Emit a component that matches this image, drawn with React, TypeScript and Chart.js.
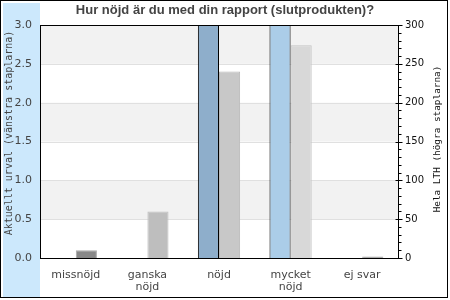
import React, { useEffect, useRef } from "react";
import { Chart, registerables } from "chart.js";

Chart.register(...registerables);

const titleText = "Hur nöjd är du med din rapport (slutprodukten)?";
const categories: string[][] = [["missnöjd"], ["ganska", "nöjd"], ["nöjd"], ["mycket", "nöjd"], ["ej svar"]];
const aktuelltUrval: number[] = [0, 0, 4, 5, 0];
const helaLTH: number[] = [10, 60, 240, 274, 2];
const leftTitle = "Aktuellt urval (vänstra staplarna)";
const rightTitle = "Hela LTH (högra staplarna)";
const leftMax = 3;
const leftStep = 0.5;
const rightMax = 300;
const rightStep = 50;
const rightMinorStep = 10;

const leftColors = ["#8eaecb", "#8eaecb", "#8eaecb", "#abcde8", "#abcde8"];
const rightColors = ["#888888", "#bebebe", "#c8c8c8", "#d8d8d8", "#999999"];
const rightBorders = ["#a8a8a8", "#bebebe", "#b8b8b8", "#c4c4c4", "#a8a8a8"];

const decor = {
  id: "decor",
  beforeDraw(chart: any) {
    const { ctx, chartArea: a, scales } = chart;
    const y = scales.y;
    ctx.save();
    ctx.fillStyle = "#ffffff";
    ctx.fillRect(0, 0, chart.width, chart.height);
    ctx.fillStyle = "#cce8fc";
    ctx.fillRect(3, 3, 37, 294);
    const n = Math.round(leftMax / leftStep);
    for (let k = 0; k < n; k++) {
      if (k % 2 === 1) {
        const y0 = y.getPixelForValue(k * leftStep);
        const y1 = y.getPixelForValue((k + 1) * leftStep);
        ctx.fillStyle = "#f2f2f2";
        ctx.fillRect(a.left, y1, a.right - a.left, y0 - y1);
      }
    }
    ctx.strokeStyle = "#e0e0e0";
    ctx.lineWidth = 1;
    for (let k = 1; k < n; k++) {
      const py = Math.round(y.getPixelForValue(k * leftStep)) + 0.5;
      ctx.beginPath();
      ctx.moveTo(a.left, py);
      ctx.lineTo(a.right, py);
      ctx.stroke();
    }
    ctx.strokeStyle = "#000";
    ctx.strokeRect(0.5, 0.5, 447, 297);
    ctx.restore();
  },
  afterDatasetsDraw(chart: any) {
    const { ctx, chartArea: a, scales } = chart;
    const y1 = scales.y1;
    ctx.save();
    ctx.strokeStyle = "#000";
    ctx.lineWidth = 1;
    const L = Math.round(a.left) + 0.5;
    const R = Math.round(a.right) + 0.5;
    const T = Math.round(a.top) + 0.5;
    const B = Math.round(a.bottom) + 0.5;
    ctx.strokeRect(L, T, R - L, B - T);
    for (let v = 0; v <= rightMax; v += rightMinorStep) {
      const py = Math.round(y1.getPixelForValue(v)) + 0.5;
      const major = v % rightStep === 0;
      ctx.beginPath();
      ctx.moveTo(major ? R - 3 : R, py);
      ctx.lineTo(R + (major ? 4 : 3), py);
      ctx.stroke();
    }
    ctx.restore();
  },
  afterDraw(chart: any) {
    const { ctx } = chart;
    ctx.save();
    ctx.textAlign = "center";
    ctx.textBaseline = "middle";
    ctx.font = '10px "DejaVu Sans Mono"';
    ctx.fillStyle = "#444";
    ctx.translate(9.5, 133);
    ctx.rotate(-Math.PI / 2);
    ctx.fillText(leftTitle, 0, 0);
    ctx.restore();
    ctx.save();
    ctx.textAlign = "center";
    ctx.textBaseline = "middle";
    ctx.font = '9.4px "DejaVu Sans Mono"';
    ctx.fillStyle = "#111";
    ctx.translate(438, 139);
    ctx.rotate(-Math.PI / 2);
    ctx.fillText(rightTitle, 0, 0);
    ctx.restore();
  },
};

export default function App() {
  const ref = useRef<HTMLCanvasElement | null>(null);
  useEffect(() => {
    document.body.style.margin = "0";
    const chart = new Chart(ref.current as HTMLCanvasElement, {
      type: "bar",
      data: {
        labels: categories,
        datasets: [
          {
            label: "Aktuellt urval",
            data: aktuelltUrval,
            yAxisID: "y",
            backgroundColor: leftColors,
            borderColor: "#000",
            borderWidth: 1,
            clip: 0,
          } as any,
          {
            label: "Hela LTH",
            data: helaLTH,
            yAxisID: "y1",
            backgroundColor: rightColors,
            borderColor: rightBorders,
            borderWidth: 1,
            clip: 0,
          } as any,
        ],
      },
      options: {
        responsive: false,
        animation: false,
        devicePixelRatio: 1,
        layout: { padding: 0 },
        datasets: { bar: { categoryPercentage: 0.59, barPercentage: 1 } },
        plugins: {
          legend: { display: false },
          tooltip: { enabled: false },
          title: {
            display: true,
            text: titleText,
            color: "#444",
            font: { family: '"Liberation Sans", Arial, sans-serif', size: 13, weight: "bold", lineHeight: 1.2 },
            padding: { top: 3, bottom: 6.4 },
          },
        },
        scales: {
          x: {
            grid: { display: false, drawTicks: false },
            border: { display: false },
            ticks: {
              color: "#444",
              font: { family: '"DejaVu Sans", sans-serif', size: 11, lineHeight: 1.08 },
              padding: 11,
              maxRotation: 0,
              autoSkip: false,
            },
            afterFit(s: any) {
              s.height = 42;
            },
          },
          y: {
            position: "left",
            min: 0,
            max: leftMax,
            grid: { display: false, drawTicks: false },
            border: { display: false },
            ticks: {
              stepSize: leftStep,
              color: "#444",
              font: { family: '"DejaVu Sans", sans-serif', size: 11 },
              padding: 8,
              callback: (v: any) => Number(v).toFixed(1),
            },
            afterFit(s: any) {
              s.width = 40;
            },
          },
          y1: {
            position: "right",
            min: 0,
            max: rightMax,
            grid: { display: false, drawTicks: false },
            border: { display: false },
            ticks: {
              stepSize: rightStep,
              color: "#111",
              font: { family: '"DejaVu Sans", sans-serif', size: 10 },
              padding: 7,
            },
            afterFit(s: any) {
              s.width = 52;
            },
          },
        },
      } as any,
      plugins: [decor],
    });
    return () => chart.destroy();
  }, []);
  return (
    <div style={{ position: "fixed", left: 0, top: 0, width: 450, height: 300 }}>
      <canvas ref={ref} width={450} height={300} />
    </div>
  );
}
